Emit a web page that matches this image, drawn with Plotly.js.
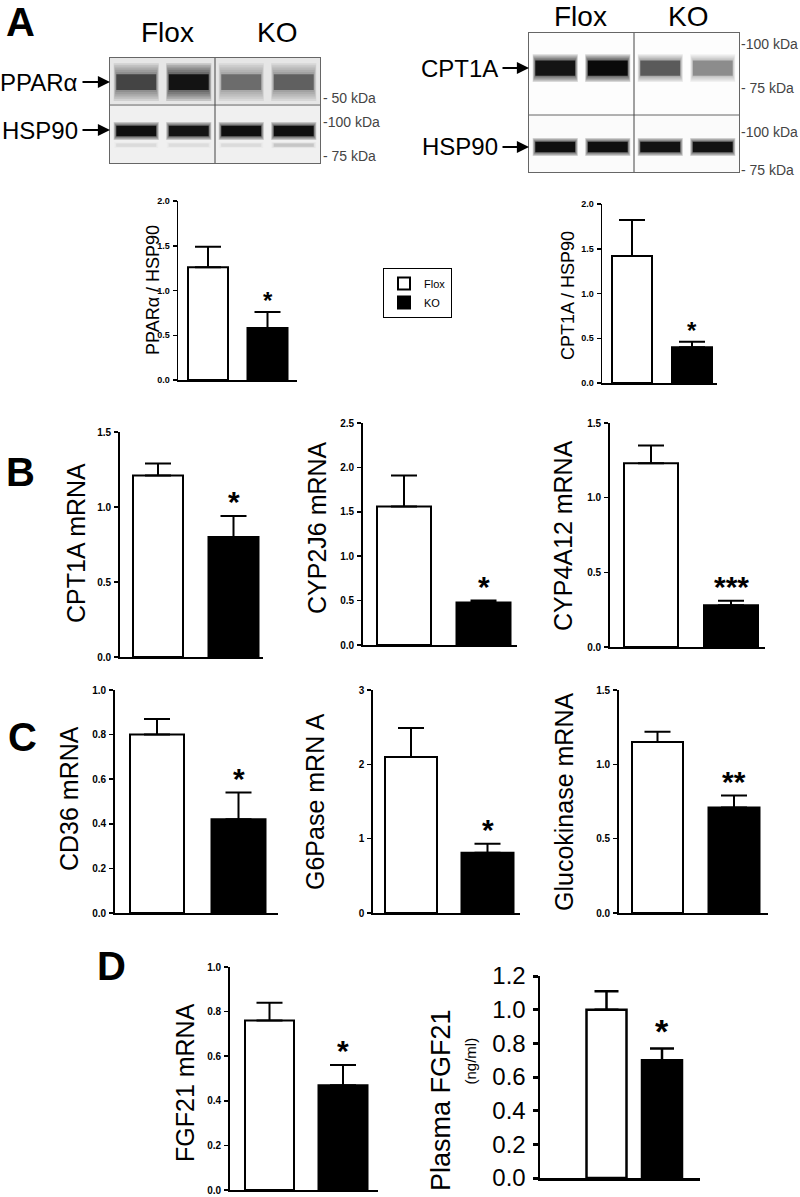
<!DOCTYPE html>
<html>
<head>
<meta charset="utf-8">
<script src="https://cdn.plot.ly/plotly-3.0.1.min.js"></script>
<style>html,body{margin:0;padding:0;background:#fff}#chart{width:800px;height:1197px}</style>
</head>
<body>
<div id="chart"></div>
<script>
// ---------------- DATA ----------------
const groups = ["Flox", "KO"];
// Panel A quantification
const pparaHsp90 = [1.26, 0.58];
const pparaHsp90Err = [0.23, 0.18];
const cpt1aHsp90 = [1.42, 0.40];
const cpt1aHsp90Err = [0.40, 0.06];
// Panel B
const cpt1aMrna = [1.21, 0.80];
const cpt1aMrnaErr = [0.08, 0.14];
const cyp2j6Mrna = [1.56, 0.48];
const cyp2j6MrnaErr = [0.35, 0.02];
const cyp4a12Mrna = [1.23, 0.28];
const cyp4a12MrnaErr = [0.12, 0.03];
// Panel C
const cd36Mrna = [0.80, 0.42];
const cd36MrnaErr = [0.07, 0.12];
const g6paseMrna = [2.10, 0.81];
const g6paseMrnaErr = [0.39, 0.12];
const glucokinaseMrna = [1.15, 0.71];
const glucokinaseMrnaErr = [0.07, 0.08];
// Panel D
const fgf21Mrna = [0.76, 0.47];
const fgf21MrnaErr = [0.08, 0.09];
const plasmaFgf21 = [1.00, 0.70];
const plasmaFgf21Err = [0.11, 0.07];
// Western blot lanes and relative band intensities (Flox, Flox, KO, KO)
const blotLanes = [0, 1, 2, 3];
const pparaBand = [0.60, 0.95, 0.40, 0.45];
const hsp90BandLeft = [0.95, 0.90, 0.95, 0.95];
const hsp90MinorBandLeft = [0.05, 0.04, 0.05, 0.10];
const cpt1aBand = [0.90, 1.00, 0.50, 0.30];
const hsp90BandRight = [0.95, 0.95, 0.92, 0.92];

// ---------------- LAYOUT HELPERS ----------------
const W = 800, H = 1197;
const FONT = 'Liberation Sans, Arial, Helvetica, sans-serif';
const px = p => p / W;
const py = p => 1 - p / H;

const charts = [
  {vals: pparaHsp90, errs: pparaHsp90Err, x0:178, x1:297, c0:208, c1:267.5, bw:40, y0:380, yT:201, top:2.0, dt:0.5, fmt:'.1f', tf:9, label:'PPARα / HSP90', lx:153, ly:290, ls:18, star:'*', ss:24, lw:1.5},
  {vals: cpt1aHsp90, errs: cpt1aHsp90Err, x0:602, x1:717, c0:632, c1:692, bw:40, y0:383, yT:204, top:2.0, dt:0.5, fmt:'.1f', tf:9, label:'CPT1A / HSP90', lx:568, ly:296, ls:18, star:'*', ss:24, lw:1.5},
  {vals: cpt1aMrna, errs: cpt1aMrnaErr, x0:120, x1:263, c0:158, c1:233.5, bw:50, y0:657, yT:432, top:1.5, dt:0.5, fmt:'.1f', tf:10, label:'CPT1A mRNA', lx:76, ly:543, ls:25, star:'*', ss:30, lw:1.8},
  {vals: cyp2j6Mrna, errs: cyp2j6MrnaErr, x0:363, x1:517, c0:404, c1:483.5, bw:54, y0:645, yT:423, top:2.5, dt:0.5, fmt:'.1f', tf:10, label:'CYP2J6 mRNA', lx:317, ly:528, ls:25, star:'*', ss:30, lw:1.8},
  {vals: cyp4a12Mrna, errs: cyp4a12MrnaErr, x0:610, x1:765, c0:651, c1:731, bw:54, y0:647, yT:423, top:1.5, dt:0.5, fmt:'.1f', tf:10, label:'CYP4A12 mRNA', lx:563, ly:536, ls:25, star:'***', ss:30, lw:1.8},
  {vals: cd36Mrna, errs: cd36MrnaErr, x0:115, x1:278, c0:157, c1:238.5, bw:54, y0:913, yT:690, top:1.0, dt:0.2, fmt:'.1f', tf:10, label:'CD36 mRNA', lx:69, ly:799, ls:25, star:'*', ss:30, lw:1.8},
  {vals: g6paseMrna, errs: g6paseMrnaErr, x0:373, x1:520, c0:411, c1:487.5, bw:52, y0:913, yT:690, top:3, dt:1, fmt:'d', tf:10, label:'G6Pase mRN A', lx:315, ly:802, ls:25, star:'*', ss:30, lw:1.8},
  {vals: glucokinaseMrna, errs: glucokinaseMrnaErr, x0:619, x1:768, c0:657.5, c1:734, bw:51, y0:913, yT:690, top:1.5, dt:0.5, fmt:'.1f', tf:10, label:'Glucokinase mRNA', lx:564, ly:802, ls:25, star:'**', ss:30, lw:1.8},
  {vals: fgf21Mrna, errs: fgf21MrnaErr, x0:230, x1:378, c0:269.5, c1:343, bw:49, y0:1190, yT:967, top:1.0, dt:0.2, fmt:'.1f', tf:10, label:'FGF21 mRNA', lx:185, ly:1083, ls:25, star:'*', ss:30, lw:1.8},
  {vals: plasmaFgf21, errs: plasmaFgf21Err, x0:540, x1:700, c0:606.5, c1:662, bw:40, y0:1178, yT:976, top:1.2, dt:0.2, fmt:'.1f', tf:24, tfNormal:true, label:'Plasma FGF21', lx:441, ly:1100, ls:27, star:'*', ss:34, lw:2.5}
];

const data = [];
const annotations = [];
const shapes = [];
const layout = {
  width: W, height: H,
  margin: {l:0, r:0, t:0, b:0, pad:0},
  paper_bgcolor: 'white', plot_bgcolor: 'rgba(0,0,0,0)',
  font: {family: FONT, color: 'black'},
  barmode: 'overlay',
  showlegend: true,
  legend: {x: px(383), y: py(268), xanchor:'left', yanchor:'top', bgcolor:'white', bordercolor:'black', borderwidth:1,
           font:{size:11, family: FONT}, tracegroupgap:0, itemwidth:30, traceorder:'normal'}
};
const sfx = k => (k === 1 ? '' : String(k));

charts.forEach((c, i) => {
  const k = i + 1, s = sfx(k);
  const u = c.c1 - c.c0;
  layout['xaxis' + s] = {
    domain: [px(c.x0), px(c.x1)], range: [(c.x0 - c.c0) / u, (c.x1 - c.c0) / u],
    anchor: 'y' + s, showline: true, linecolor: 'black', linewidth: c.lw,
    showticklabels: false, ticks: '', showgrid: false, zeroline: false, fixedrange: true
  };
  layout['yaxis' + s] = {
    domain: [py(c.y0), py(c.yT)], range: [0, c.top], anchor: 'x' + s,
    showline: true, linecolor: 'black', linewidth: c.lw,
    ticks: 'outside', ticklen: c.tfNormal ? 5 : 4, tickwidth: c.tfNormal ? 3 : 1.5, tickcolor: 'black',
    tick0: 0, dtick: c.dt, tickformat: c.fmt, ticklabelstandoff: c.tfNormal ? 2 : 1,
    tickfont: {size: c.tf, family: FONT, weight: c.tfNormal ? 'normal' : 'bold', color: 'black'},
    showgrid: false, zeroline: false, fixedrange: true
  };
  groups.forEach((g, j) => {
    data.push({
      type: 'bar', x: [j], y: [c.vals[j]], width: [c.bw / u],
      xaxis: 'x' + s, yaxis: 'y' + s, name: g, legendgroup: g, showlegend: i === 0,
      marker: {color: j === 0 ? 'white' : 'black', line: {color: 'black', width: c.tfNormal ? 2.5 : 2}},
      error_y: {type: 'data', symmetric: false, array: [c.errs[j]], arrayminus: [0],
                color: 'black', thickness: c.tfNormal ? 2.5 : 2, width: c.tfNormal ? 12 : 13},
      hoverinfo: 'skip'
    });
  });
  annotations.push({
    xref: 'x' + s, yref: 'y' + s, x: 1, y: c.vals[1] + c.errs[1], text: c.star,
    showarrow: false, yanchor: 'bottom', yshift: -4,
    font: {size: c.ss, family: FONT, weight: 'bold', color: 'black'}
  });
  annotations.push({
    xref: 'paper', yref: 'paper', x: px(c.lx), y: py(c.ly), text: c.label, textangle: -90,
    showarrow: false, xanchor: 'center', yanchor: 'middle',
    font: {size: c.ls, family: FONT, color: 'black'}
  });
});
// subtitle for plasma FGF21
annotations.push({xref:'paper', yref:'paper', x: px(470), y: py(1087), text:'(ng/ml)', textangle:-90,
  showarrow:false, font:{size:15, family:FONT, color:'black'}});

// ---------------- WESTERN BLOTS ----------------
const blots = [
  {k: 11, x0:110, x1:320, y0:163, yT:58, div:0.552, bg:[['#f0f0f0',0,0.552],['#e6e6e6',0.552,1]],
   rows: [
     {ints: pparaBand, c: 0.771, core: 0.15, halo: 0.36, alpha:0.95},
     {ints: hsp90BandLeft, c: 0.305, core: 0.10, halo: 0.17, alpha:1},
     {ints: hsp90MinorBandLeft, c: 0.17, core: 0.03, halo: 0.06, alpha:1}
   ]},
  {k: 12, x0:529, x1:739, y0:172, yT:33, div:0.41, bg:[['#fbfbfb',0,0.41],['#fdfdfd',0.41,1]],
   rows: [
     {ints: cpt1aBand, c: 0.748, core: 0.11, halo: 0.20, alpha:1},
     {ints: hsp90BandRight, c: 0.18, core: 0.075, halo: 0.13, alpha:1}
   ]}
];
const NL = 6;
blots.forEach(b => {
  const s = sfx(b.k);
  layout['xaxis' + s] = {domain:[px(b.x0), px(b.x1)], range:[-0.5, 3.5], anchor:'y'+s, showline:true, mirror:true,
    linecolor:'#666', linewidth:1, showticklabels:false, ticks:'', showgrid:false, zeroline:false, fixedrange:true};
  layout['yaxis' + s] = {domain:[py(b.y0), py(b.yT)], range:[0, 1], anchor:'x'+s, showline:true, mirror:true,
    linecolor:'#666', linewidth:1, showticklabels:false, ticks:'', showgrid:false, zeroline:false, fixedrange:true};
  b.bg.forEach(([col, a, z]) => shapes.push({type:'rect', xref:'x'+s+' domain', yref:'y'+s, x0:0, x1:1, y0:a, y1:z,
    fillcolor: col, line:{width:0}, layer:'below'}));
  shapes.push({type:'line', xref:'x'+s+' domain', yref:'y'+s, x0:0, x1:1, y0:b.div, y1:b.div, line:{color:'#666', width:1}});
  shapes.push({type:'line', xref:'x'+s, yref:'y'+s+' domain', x0:1.5, x1:1.5, y0:0, y1:1, line:{color:'#444', width:1}});
  b.rows.forEach(r => {
    for (let l = 0; l < NL; l++) {
      const f = l / (NL - 1);                 // 0 = outer halo, 1 = core
      const th = r.halo + (r.core - r.halo) * f;
      const a = (l === NL - 1) ? r.alpha : 0.16;
      const w = 0.86 - 0.1 * f;
      data.push({
        type:'bar', x: blotLanes, y: blotLanes.map(() => th), base: r.c - th / 2, width: w,
        xaxis:'x'+s, yaxis:'y'+s, showlegend:false, hoverinfo:'skip',
        marker:{color: r.ints.map(v => `rgba(10,10,10,${Math.min(1, v * a).toFixed(3)})`), line:{width:0}}
      });
    }
  });
});

// ---------------- TEXT LABELS ----------------
const txt = (x, y, t, size, opts = {}) => annotations.push(Object.assign({
  xref:'paper', yref:'paper', x: px(x), y: py(y), text: t, showarrow:false,
  xanchor:'center', yanchor:'middle', font:{size, family: FONT, color:'black'}
}, opts));
const bold = (size) => ({font:{size, family: FONT, color:'black', weight:'bold'}});

txt(4, 22, 'A', 40, Object.assign({xanchor:'left'}, bold(40)));
txt(4, 472, 'B', 40, Object.assign({xanchor:'left'}, bold(40)));
txt(6, 737, 'C', 40, Object.assign({xanchor:'left'}, bold(40)));
txt(95, 966, 'D', 40, Object.assign({xanchor:'left'}, bold(40)));

txt(167, 32, 'Flox', 28); txt(277, 32, 'KO', 28);
txt(580, 16, 'Flox', 28); txt(688, 16, 'KO', 28);

const rowLabel = (xRight, xTip, y, t) => {
  txt(xRight, y, t, 24, {xanchor:'right'});
  annotations.push({xref:'paper', yref:'paper', x: px(xTip), y: py(y), ax: -(xTip - xRight) + 1, ay: 0,
    text:'', showarrow:true, arrowhead:2, arrowsize:1.1, arrowwidth:2.2, arrowcolor:'black', standoff:0, startstandoff:0});
};
rowLabel(80, 110, 82, 'PPARα');
rowLabel(80, 110, 130, 'HSP90');
rowLabel(500, 529, 68, 'CPT1A');
rowLabel(500, 529, 147, 'HSP90');

const kda = (x, y, t) => txt(x, y, '-' + t, 14, {xanchor:'left', font:{size:14, family:FONT, color:'#444'}});
kda(321, 98, ' 50 kDa'); kda(321, 122, '100 kDa'); kda(321, 156, ' 75 kDa');
kda(739, 44, '100 kDa'); kda(739, 88, ' 75 kDa'); kda(739, 132, '100 kDa'); kda(739, 170, ' 75 kDa');

layout.annotations = annotations;
layout.shapes = shapes;

Plotly.newPlot('chart', data, layout, {staticPlot: true, displayModeBar: false});
</script>
</body>
</html>
